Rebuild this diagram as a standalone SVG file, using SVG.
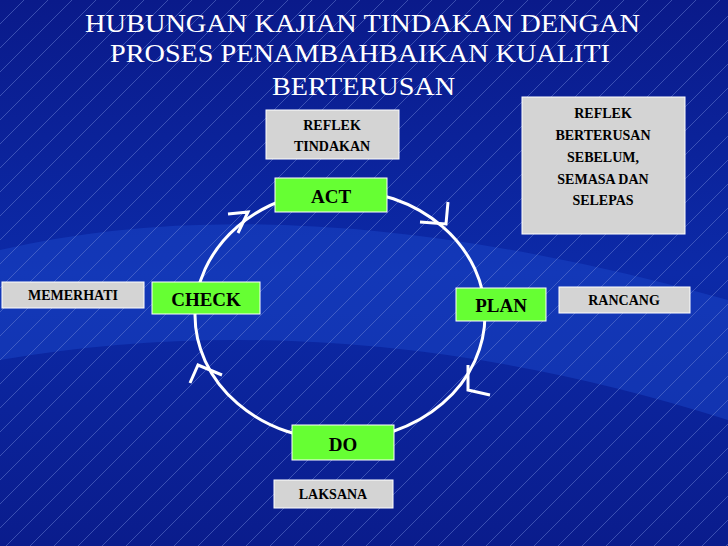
<svg xmlns="http://www.w3.org/2000/svg" width="728" height="546" viewBox="0 0 728 546">
<defs>
<linearGradient id="bg" x1="0" y1="0" x2="0" y2="1"><stop offset="0" stop-color="#0a1a8a"/><stop offset="0.5" stop-color="#0c2aa8"/><stop offset="1" stop-color="#0a1c8c"/></linearGradient>
<pattern id="hatch" width="24" height="24" patternUnits="userSpaceOnUse"><line x1="0" y1="24" x2="24" y2="0" stroke="#6f86d8" stroke-width="0.8" opacity="0.6"/></pattern>
</defs>
<style>
.g{fill:#66ff33;stroke:#fff;stroke-width:1}
.w{fill:#d4d4d4;stroke:#fff;stroke-width:1}
.t{font-family:"Liberation Serif",serif;font-weight:bold;fill:#000;text-anchor:middle}
.h{font-family:"Liberation Serif",serif;fill:#fff;font-size:25px}
.c{fill:none;stroke:#fff;stroke-width:3}
</style>
<rect width="728" height="546" fill="url(#bg)"/>
<path d="M0 250 Q300 180 728 300 L728 420 Q350 300 0 360 Z" fill="#1a45c8" opacity="0.5"/>
<rect width="728" height="546" fill="url(#hatch)"/>
<text class="h" x="85" y="32" textLength="555" lengthAdjust="spacingAndGlyphs">HUBUNGAN KAJIAN TINDAKAN  DENGAN</text>
<text class="h" x="110" y="62" textLength="500" lengthAdjust="spacingAndGlyphs">PROSES PENAMBAHBAIKAN KUALITI</text>
<text class="h" x="272" y="95" textLength="183" lengthAdjust="spacingAndGlyphs">BERTERUSAN</text>
<g id="connectors">
<ellipse class="c" cx="340" cy="315" rx="145" ry="125"/>
<polyline class="c" points="228,214 248,212 238,233"/>
<polyline class="c" points="420,222 446,224 448,202"/>
<polyline class="c" points="468,365 468,390 490,395"/>
<polyline class="c" points="222,375 198,365 190,383"/>
</g>
<g id="act"><rect class="g" x="275" y="178" width="112" height="34"/><text class="t" x="331" y="203" font-size="19">ACT</text></g>
<g id="plan"><rect class="g" x="456" y="288" width="90" height="33"/><text class="t" x="501" y="312" font-size="19">PLAN</text></g>
<g id="do"><rect class="g" x="292" y="425" width="102" height="35"/><text class="t" x="343" y="451" font-size="19">DO</text></g>
<g id="check"><rect class="g" x="152" y="282" width="108" height="32"/><text class="t" x="206" y="306" font-size="19">CHECK</text></g>
<g id="reflek"><rect class="w" x="266" y="110" width="133" height="49"/><text class="t" x="332" y="130" font-size="14">REFLEK</text><text class="t" x="332" y="151" font-size="14">TINDAKAN</text></g>
<g id="reflek2"><rect class="w" x="522" y="97" width="163" height="137"/><text class="t" x="603" y="118" font-size="14">REFLEK</text><text class="t" x="603" y="140" font-size="14">BERTERUSAN</text><text class="t" x="603" y="162" font-size="14">SEBELUM,</text><text class="t" x="603" y="184" font-size="14">SEMASA DAN</text><text class="t" x="603" y="205" font-size="14">SELEPAS</text></g>
<g id="memerhati"><rect class="w" x="2" y="282" width="142" height="26"/><text class="t" x="73" y="300" font-size="14">MEMERHATI</text></g>
<g id="rancang"><rect class="w" x="559" y="287" width="131" height="26"/><text class="t" x="624" y="305" font-size="14">RANCANG</text></g>
<g id="laksana"><rect class="w" x="274" y="480" width="119" height="28"/><text class="t" x="333" y="499" font-size="14">LAKSANA</text></g>
</svg>
